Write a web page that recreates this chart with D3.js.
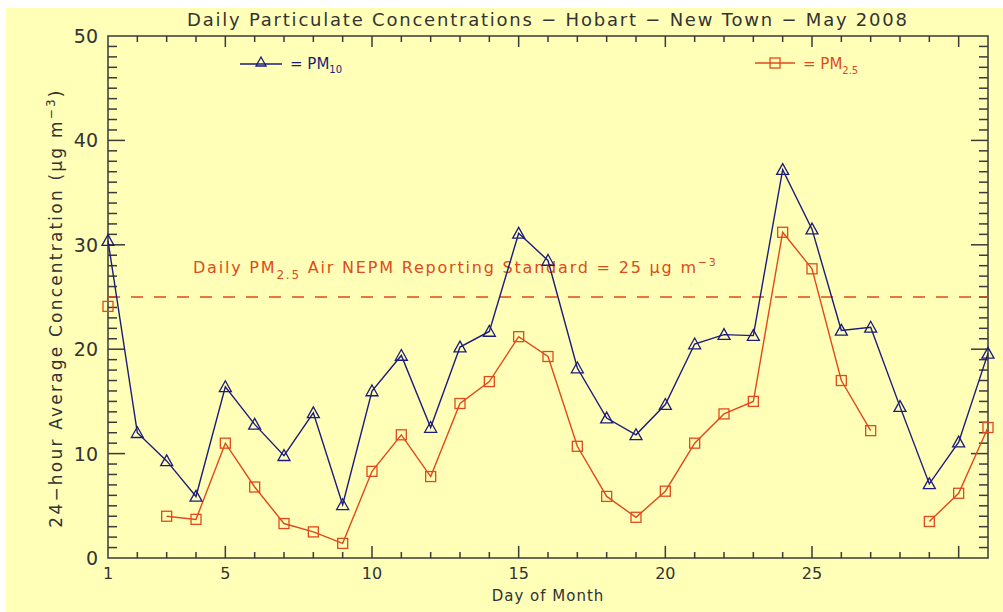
<!DOCTYPE html>
<meta charset="utf-8">
<html>
<head>
  <script src="https://d3js.org/d3.v7.min.js"></script>
  <style>
    body { margin: 0; background: #fff; }
    text { font-family: "DejaVu Sans", sans-serif; }
  </style>
</head>
<body>
<div id="chart"></div>
<script>

// days of May 2008
var days = d3.range(1, 32);
// 24-hour PM10 (ug/m3)
var pm10 = [30.4, 12.0, 9.3, 5.9, 16.4, 12.8, 9.8, 13.9, 5.1, 16.0,
            19.4, 12.5, 20.2, 21.7, 31.1, 28.5, 18.2, 13.4, 11.8, 14.7,
            20.5, 21.4, 21.3, 37.2, 31.5, 21.8, 22.1, 14.5, 7.1, 11.1, 19.6];
// 24-hour PM2.5 (ug/m3), null = no data
var pm25 = [24.1, null, 4.0, 3.7, 11.0, 6.8, 3.3, 2.5, 1.4, 8.3,
            11.8, 7.8, 14.8, 16.9, 21.2, 19.3, 10.7, 5.9, 3.9, 6.4,
            11.0, 13.8, 15.0, 31.2, 27.7, 17.0, 12.2, null, 3.5, 6.2, 12.5];
var standard = 25;
var xTickLabels = [1, 5, 10, 15, 20, 25];
var yTickLabels = [0, 10, 20, 30, 40, 50];

var W = 1003, H = 612;
var navy = "#1c1c7c", red = "#e04a1c", axisCol = "#3a3a3a";
var margin = {top: 36, right: 15, bottom: 54, left: 108};
var width = 988 - margin.left, height = 558 - margin.top;

var root = d3.select("#chart").append("svg")
    .attr("width", W).attr("height", H);

root.append("rect").attr("x", 6).attr("y", 8)
    .attr("width", W - 6).attr("height", H - 8)
    .attr("fill", "#ffffb8");

var svg = root.append("g")
    .attr("transform", "translate(" + margin.left + "," + margin.top + ")");

var x = d3.scaleLinear().domain([1, 31]).range([0, width]);
var y = d3.scaleLinear().domain([0, 50]).range([height, 0]);

// frame
svg.append("rect").attr("width", width).attr("height", height)
    .attr("fill", "none").attr("stroke", axisCol).attr("stroke-width", 1.5);

// x ticks bottom & top
var major = function(d) { return d === 1 || d % 5 === 0; };
svg.append("g").selectAll("line").data(days.slice(1, 30)).join("line")
    .attr("x1", d => x(d)).attr("x2", d => x(d))
    .attr("y1", height).attr("y2", d => height - (major(d) ? 12 : 6))
    .attr("stroke", axisCol).attr("stroke-width", 1.5);
svg.append("g").selectAll("line").data(days.slice(1, 30)).join("line")
    .attr("x1", d => x(d)).attr("x2", d => x(d))
    .attr("y1", 0).attr("y2", d => major(d) ? 11 : 6)
    .attr("stroke", axisCol).attr("stroke-width", 1.5);
svg.append("g").selectAll("text").data(xTickLabels).join("text")
    .attr("x", d => x(d)).attr("y", height + 21)
    .attr("text-anchor", "middle").attr("font-size", 16).attr("fill", "#333")
    .text(d => d);

// y ticks left & right
var yMinor = d3.range(1, 50);
svg.append("g").selectAll("line").data(yMinor).join("line")
    .attr("y1", d => y(d)).attr("y2", d => y(d))
    .attr("x1", 0).attr("x2", d => d % 10 === 0 ? 17 : 9)
    .attr("stroke", axisCol).attr("stroke-width", 1.5);
svg.append("g").selectAll("line").data(yMinor).join("line")
    .attr("y1", d => y(d)).attr("y2", d => y(d))
    .attr("x1", width).attr("x2", d => width - (d % 10 === 0 ? 17 : 9))
    .attr("stroke", axisCol).attr("stroke-width", 1.5);
svg.append("g").selectAll("text").data(yTickLabels).join("text")
    .attr("x", -10).attr("y", d => y(d) + 7)
    .attr("text-anchor", "end").attr("font-size", 19).attr("fill", "#333")
    .text(d => d);

// standard line
svg.append("line").attr("x1", 0).attr("x2", width)
    .attr("y1", y(standard)).attr("y2", y(standard))
    .attr("stroke", red).attr("stroke-width", 1.6).attr("stroke-dasharray", "12,11");

var ann = svg.append("text").attr("x", 85).attr("y", y(standard) - 24)
    .attr("font-size", 16).attr("fill", red).attr("letter-spacing", 1.8);
ann.append("tspan").text("Daily PM");
ann.append("tspan").attr("font-size", 12).attr("dy", 6).text("2.5");
ann.append("tspan").attr("dy", -6).text(" Air NEPM Reporting Standard = 25 \u00b5g m");
ann.append("tspan").attr("font-size", 11).attr("dy", -7).text("\u22123");

// series
var line = d3.line().defined(d => d[1] !== null).x(d => x(d[0])).y(d => y(d[1]));
var d10 = days.map((d, i) => [d, pm10[i]]);
var d25 = days.map((d, i) => [d, pm25[i]]);

svg.append("path").datum(d10).attr("d", line)
    .attr("fill", "none").attr("stroke", navy).attr("stroke-width", 1.4);
svg.append("path").datum(d25).attr("d", line)
    .attr("fill", "none").attr("stroke", red).attr("stroke-width", 1.4);

var tri = function(cx, cy, s) {
  return "M" + cx + "," + (cy - s) + "L" + (cx + s) + "," + (cy + s * 0.8) +
         "L" + (cx - s) + "," + (cy + s * 0.8) + "Z";
};
svg.append("g").selectAll("path").data(d10).join("path")
    .attr("d", d => tri(x(d[0]), y(d[1]), 6))
    .attr("fill", "none").attr("stroke", navy).attr("stroke-width", 1.3);
svg.append("g").selectAll("rect").data(d25.filter(d => d[1] !== null)).join("rect")
    .attr("x", d => x(d[0]) - 5).attr("y", d => y(d[1]) - 5)
    .attr("width", 10).attr("height", 10)
    .attr("fill", "none").attr("stroke", red).attr("stroke-width", 1.3);

// legend
var lg = root.append("g");
lg.append("line").attr("x1", 240).attr("x2", 282).attr("y1", 64).attr("y2", 64)
    .attr("stroke", navy).attr("stroke-width", 1.4);
lg.append("path").attr("d", tri(261, 62, 5)).attr("fill", "none")
    .attr("stroke", navy).attr("stroke-width", 1.3);
var t1 = lg.append("text").attr("x", 290).attr("y", 69).attr("font-size", 15).attr("fill", navy);
t1.append("tspan").text("= PM");
t1.append("tspan").attr("font-size", 10).attr("dy", 4).text("10");

lg.append("line").attr("x1", 755).attr("x2", 795).attr("y1", 63).attr("y2", 63)
    .attr("stroke", red).attr("stroke-width", 1.4);
lg.append("rect").attr("x", 770).attr("y", 58).attr("width", 10).attr("height", 10)
    .attr("fill", "none").attr("stroke", red).attr("stroke-width", 1.3);
var t2 = lg.append("text").attr("x", 803).attr("y", 69).attr("font-size", 15).attr("fill", red);
t2.append("tspan").text("= PM");
t2.append("tspan").attr("font-size", 10).attr("dy", 5).text("2.5");

// title and axis titles
root.append("text").attr("x", 547).attr("y", 26).attr("text-anchor", "middle")
    .attr("font-size", 18).attr("fill", "#333").attr("textLength", 720)
    .text("Daily Particulate Concentrations \u2212 Hobart \u2212 New Town \u2212 May 2008");
root.append("text").attr("x", 548).attr("y", 601).attr("text-anchor", "middle")
    .attr("font-size", 15).attr("fill", "#333").attr("letter-spacing", 1)
    .text("Day of Month");
var yl = root.append("text").attr("transform", "translate(62,308) rotate(-90)")
    .attr("text-anchor", "middle").attr("font-size", 17).attr("fill", "#333")
    .attr("letter-spacing", 2.2);
yl.append("tspan").text("24\u2212hour Average Concentration (\u00b5g m");
yl.append("tspan").attr("font-size", 12).attr("dy", -7).text("\u22123");
yl.append("tspan").attr("dy", 7).text(")");

</script>
</body>
</html>
